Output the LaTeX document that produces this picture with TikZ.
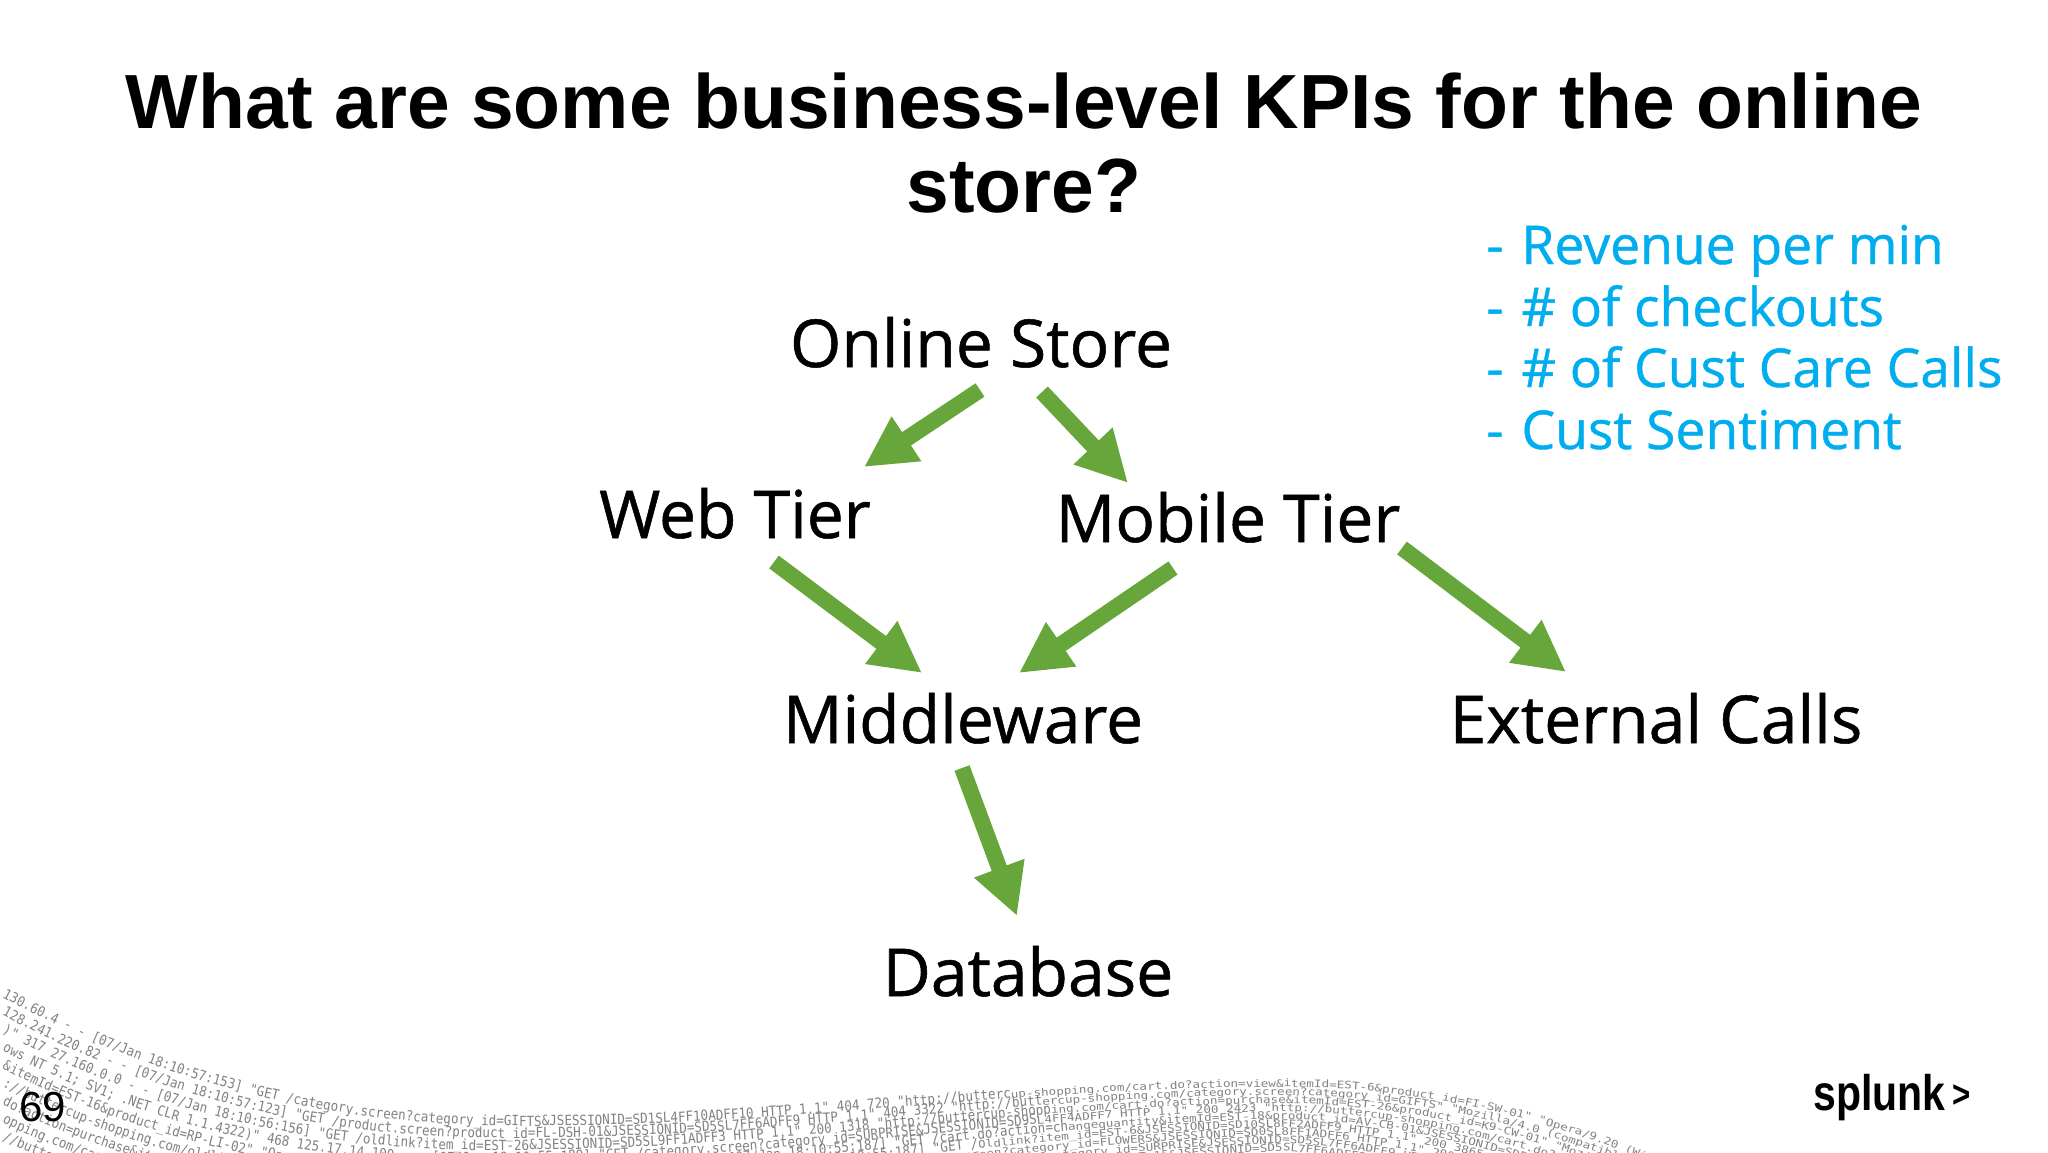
\documentclass[tikz,border=0pt]{standalone}
\usepackage{fontspec}
\usepackage{graphicx}
\usetikzlibrary{arrows.meta,decorations.text}
\setmainfont{Liberation Sans}
\newfontface\handfont[FakeBold=0.8]{Open Sans}
\newfontface\logfa[Scale=0.7,FakeStretch=0.9]{DejaVu Sans Mono}
\newfontface\logfb[Scale=0.52,FakeStretch=1.21]{DejaVu Sans Mono}
\definecolor{arrowgreen}{RGB}{102,166,58}
\definecolor{noteblue}{RGB}{0,174,239}
\definecolor{logtext}{RGB}{130,130,130}
\tikzset{
  lbl/.style={inner sep=0pt,text height=23pt,text depth=0pt,font=\handfont\fontsize{33}{38}\selectfont,text=black},
  note/.style={anchor=west,inner sep=0pt,text height=20pt,text depth=0pt,font=\handfont\fontsize{26.7}{32}\selectfont,text=noteblue},
  arr/.style={draw=arrowgreen,line width=8pt,-{Triangle[length=25.5pt,width=25pt,fill=arrowgreen]}},
  declare function={
    lefta(\t)=(522-\t)/520;
    basey(\t)=(\t<522) ? (1126-129*(0.8*lefta(\t)*lefta(\t)+0.2*lefta(\t)*lefta(\t)*lefta(\t))) : ((\t<1285) ? (1106.5+19.5*cos(0.2359*(\t-522))) : (1087+60*((\t-1285)/327)*((\t-1285)/327)));
    gap(\t)=(\t<522) ? (18-6*\t/522) : ((\t<1285) ? (12-4*(\t-522)/763) : (8+3*(\t-1285)/327));
  }
}
\newcommand\logrow[2]{\path[decorate,decoration={text along path,text={#2}}] plot[domain=2:1760,samples=90] (\x,{basey(\x)+#1*gap(\x)});}
\newcommand\notedash{-\hspace{2pt} }
\catcode`\&=12
\catcode`\_=12
\begin{document}
\begin{tikzpicture}[x=0.5pt,y=-0.5pt]
\useasboundingbox (0,0) rectangle (2048,1152);
\fill[white] (0,0) rectangle (2048,1152);
\begin{scope}
\clip (0,0) rectangle (2048,1152);
\logrow{0}{|\logfa\color{logtext}|130.60.4 - - [07/Jan 18:10:57:153] "GET /category.screen?category_id=GIFTS&JSESSIONID=SD1SL4FF10ADFF10 HTTP 1.1" 404 720 "http://butterc|\logfb\color{logtext}|up-shopping.com/cart.do?action=view&itemId=EST-6&product_id=FI-SW-01" "Opera/9.20 (Windows NT 5.1)"}
\logrow{1}{|\logfa\color{logtext}|128.241.220.82 - - [07/Jan 18:10:57:123] "GET /product.screen?product_id=FL-DSH-01&JSESSIONID=SD5SL7FF6ADFF9 HTTP 1.1" 404 3322 "http://butt|\logfb\color{logtext}|ercup-shopping.com/category.screen?category_id=GIFTS" "Mozilla/4.0 (compatible; MSIE 6.0; Windows NT 5.1)"}
\logrow{2}{|\logfa\color{logtext}|)" 317 27.160.0.0 - - [07/Jan 18:10:56:156] "GET /oldlink?item_id=EST-26&JSESSIONID=SD5SL9FF1ADFF3 HTTP 1.1" 200 1318 "http://buttercup-shopp|\logfb\color{logtext}|ing.com/cart.do?action=purchase&itemId=EST-26&product_id=K9-CW-01" "Mozilla/4.0 (compatible; MSIE 6.0)"}
\logrow{3}{|\logfa\color{logtext}|ows NT 5.1; SV1; .NET CLR 1.1.4322)" 468 125.17.14.100 - - [07/Jan 18:10:55:189] "GET /category.screen?category_id=SURPRISE&JSESSIONID=SD9S|\logfb\color{logtext}|L4FF4ADFF7 HTTP 1.1" 200 2423 "http://buttercup-shopping.com/cart.do?action=changequantity&itemId=EST-18&product_id=AV-CB-01"}
\logrow{4}{|\logfa\color{logtext}|&itemId=EST-16&product_id=RP-LI-02" "Opera/9.01 (Windows NT 5.1)" 200 1665 1.1" 125.17.14.100 - - [07/Jan 18:10:55:187] "GET /cart.do?action=ch|\logfb\color{logtext}|angequantity&itemId=EST-18&product_id=AV-CB-01&JSESSIONID=SD5SL7FF6ADFF9 HTTP 1.1" 200 3865 "http://buttercup-shopping.com/cart.do"}
\logrow{5}{|\logfa\color{logtext}|://buttercup-shopping.com/oldlink?item_id=EST-14&product_id=RP-LI-02 HTTP 1.1" 200 2871 27.160.0.0 - - [07/Jan 18:10:55:187] "GET /o|\logfb\color{logtext}|ldlink?item_id=EST-6&JSESSIONID=SD10SL8FF2ADFF9 HTTP 1.1" 200 3865 "http://buttercup-shopping.com/cart.do?action=view&itemId=EST-6"}
\logrow{6}{|\logfa\color{logtext}|do?action=purchase&itemId=EST-7&product_id=FL-DSH-01 HTTP 1.1" 200 1344 128.241.220.82 - - [07/Jan 18:10:55:141] "GET /|\logfb\color{logtext}|category.screen?category_id=FLOWERS&JSESSIONID=SD0SL8FF1ADFF6 HTTP 1.1" 200 3865 "http://buttercup-shopping.com/category.screen"}
\logrow{7}{|\logfa\color{logtext}|opping.com/cart.do?action=view&itemId=EST-2&product_id=K9-CW-01 HTTP 1.1" 200 1318 130.60.4 - - [07/Jan 18:10:55:108] "|\logfb\color{logtext}|GET /category.screen?category_id=SURPRISE&JSESSIONID=SD5SL7FF6ADFF9 HTTP 1.1" 200 2423 "http://buttercup-shopping.com/cart.do"}
\logrow{8}{|\logfa\color{logtext}|//buttercup-shopping.com/cart.do?action=view&itemId=EST-9 HTTP 1.1" 200 720 317.27.160.0 - - [07/Jan 18:10:55:100] "GET |\logfb\color{logtext}|/cart.do?action=remove&itemId=EST-15&JSESSIONID=SD5SL7FF6ADFF9 HTTP 1.1" 200 1318 "http://buttercup-shopping.com/cart.do"}
\end{scope}

\node[font=\bfseries\fontsize{38.4}{42}\selectfont,align=center,inner sep=0pt] (title) at (1024,143) {What are some business-level KPIs for the online\\store?};

\node[lbl] (store) at (981,344) {Online Store};
\node[lbl] (web) at (735,515) {Web Tier};
\node[lbl] (mobile) at (1228,519) {Mobile Tier};
\node[lbl] (mid) at (963,720) {Middleware};
\node[lbl] (ext) at (1656,720) {External Calls};
\node[lbl] (db) at (1028,973) {Database};

\node[note] (n1) at (1486,244) {\notedash Revenue per min};
\node[note] (n2) at (1486,306) {\notedash \# of checkouts};
\node[note] (n3) at (1486,367) {\notedash \# of Cust Care Calls};
\node[note] (n4) at (1486,429) {\notedash Cust Sentiment};

\draw[arr] ([shift={(-1,46)}]store.center) -- ([shift={(129,-48)}]web.center);
\draw[arr] ([shift={(61,48)}]store.center) -- ([shift={(-100,-36)}]mobile.center);
\draw[arr] ([shift={(39,47)}]web.center) -- ([shift={(-41,-47)}]mid.center);
\draw[arr] ([shift={(-55,49)}]mobile.center) -- ([shift={(56,-47)}]mid.center);
\draw[arr] ([shift={(174,29)}]mobile.center) -- ([shift={(-90,-48)}]ext.center);
\draw[arr] ([shift={(-1,48)}]mid.center) -- ([shift={(-11,-57)}]db.center);

\node[font=\fontsize{21}{24}\selectfont,inner sep=0pt] (num) at (43,1107) {69};
\node[font=\bfseries\fontsize{25}{30}\selectfont,inner sep=0pt] (logo) at (1892,1098) {\scalebox{0.82}[1]{splunk\,\raisebox{1.5pt}{\fontsize{19}{19}\selectfont>}}};
\end{tikzpicture}
\end{document}
